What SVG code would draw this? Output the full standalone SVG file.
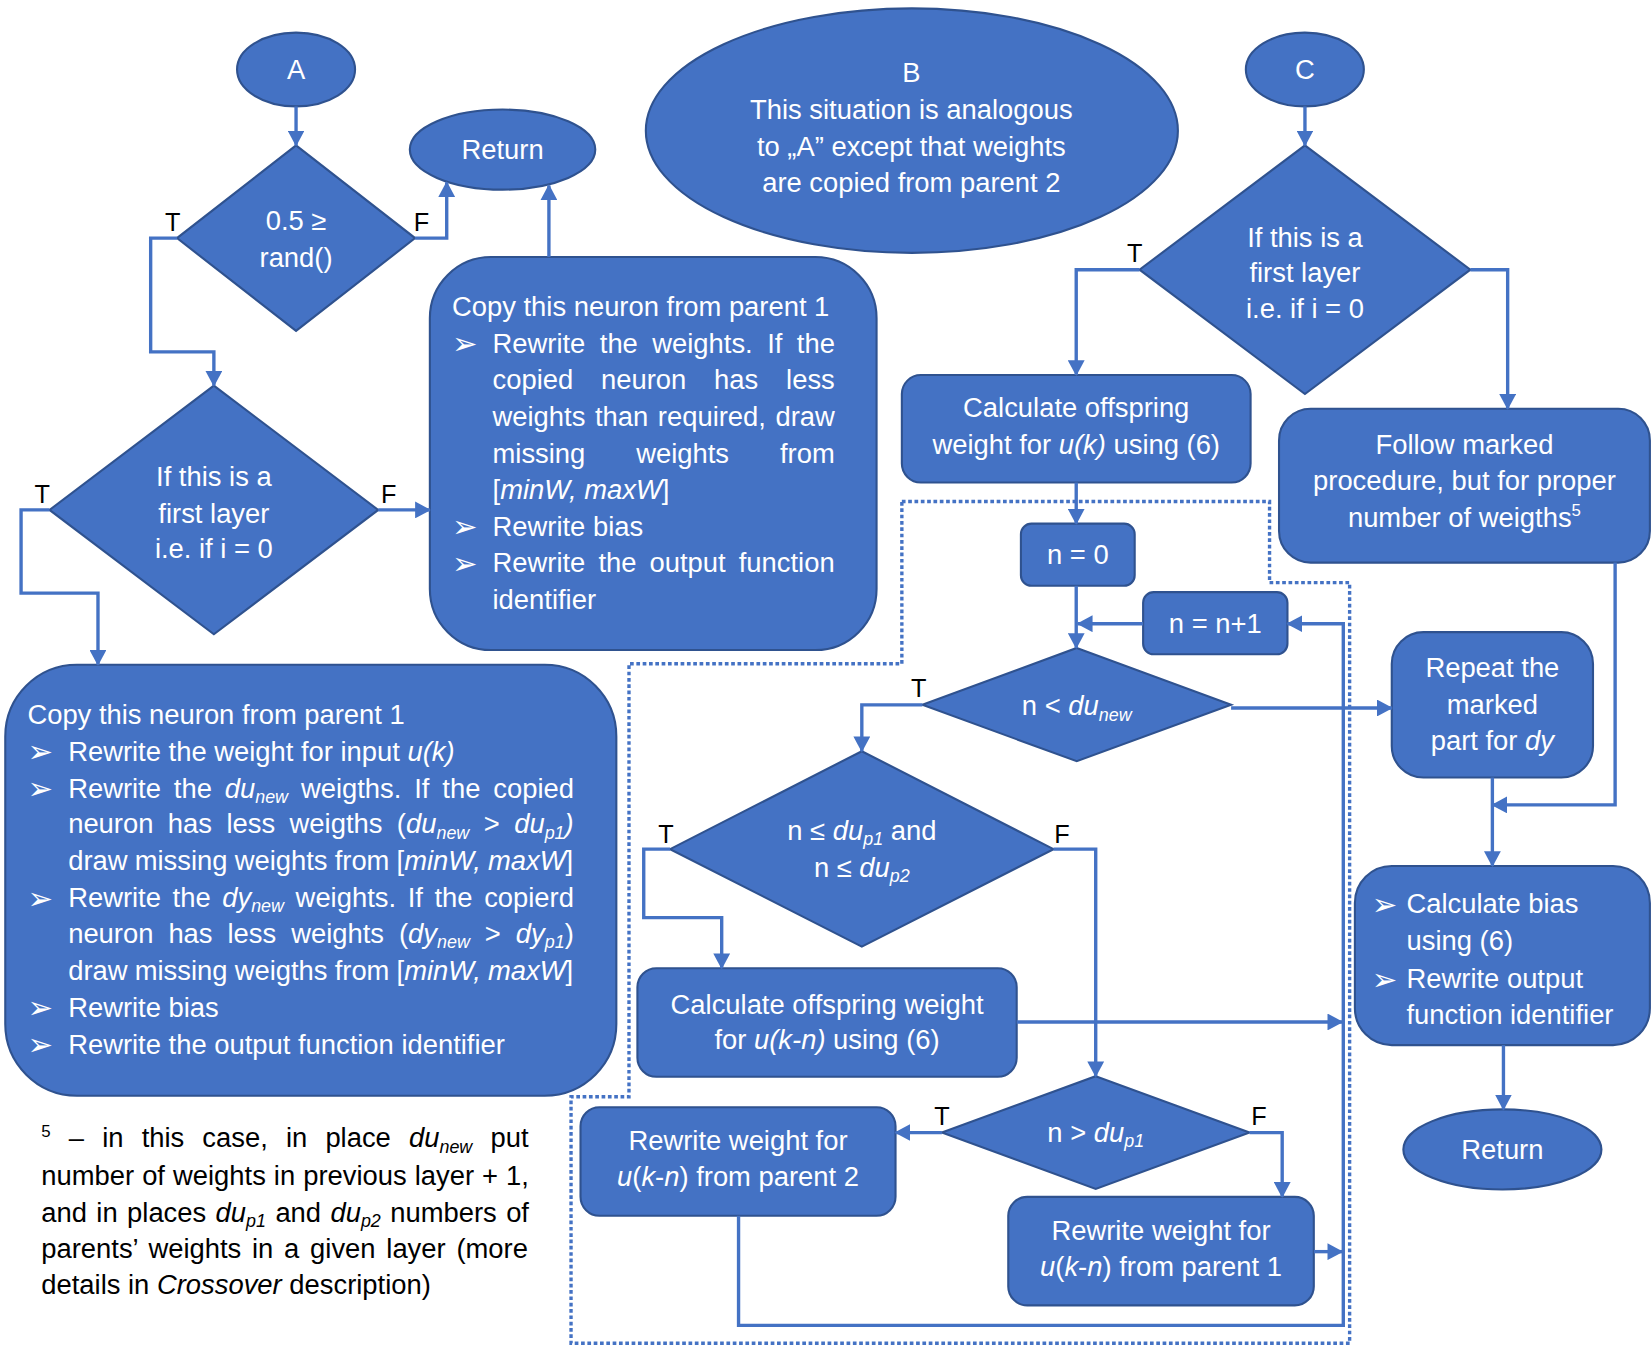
<svg xmlns="http://www.w3.org/2000/svg" width="1652" height="1356" viewBox="0 0 1652 1356">
<style>
.node{fill:#4472C4;stroke:#2F528F;stroke-width:2}
.t{font-family:"Liberation Sans",Arial,sans-serif;font-size:26px;fill:#fff}
.c{text-anchor:middle}
.i{font-style:italic}
.sub{font-size:17px;font-style:italic}
.sup{font-size:16px}
.lbl{font-family:"Liberation Sans",Arial,sans-serif;font-size:24px;fill:#000;text-anchor:middle}
.bul{font-family:"DejaVu Sans",sans-serif;font-size:29px;fill:#fff}
.fn{fill:#000}
.conn{fill:none;stroke:#4472C4;stroke-width:3.2}
.dash{fill:none;stroke:#4472C4;stroke-width:3.2;stroke-dasharray:3.5 2.5}
</style>
<defs>
<marker id="ah" markerUnits="userSpaceOnUse" markerWidth="16" markerHeight="16" refX="14" refY="8" orient="auto"><path d="M0,0 L15,8 L0,16 z" fill="#4472C4"/></marker>
</defs>
<rect width="1652" height="1356" fill="#fff"/>
<g transform="scale(1.05357)">
<g id="nodes">
<g id="startA"><ellipse class="node" cx="281" cy="66" rx="56" ry="35"/><text class="t c" x="281" y="75">A</text></g>
<g id="startB"><ellipse class="node" cx="865.5" cy="124" rx="252.5" ry="116"/>
<text class="t c" x="865" y="78">B</text>
<text class="t c" x="865" y="113">This situation is analogous</text>
<text class="t c" x="865" y="148">to „A” except that weights</text>
<text class="t c" x="865" y="182">are copied from parent 2</text></g>
<g id="startC"><ellipse class="node" cx="1238.5" cy="66" rx="56" ry="35"/><text class="t c" x="1238.5" y="75">C</text></g>
<g id="returnTop"><ellipse class="node" cx="477" cy="142" rx="88" ry="38"/><text class="t c" x="477" y="151">Return</text></g>
<g id="dRand"><polygon class="node" points="281,138 394,226 281,314 168,226"/>
<text class="t c" x="281" y="218">0.5 ≥</text><text class="t c" x="281" y="253">rand()</text></g>
<g id="dFirstA"><polygon class="node" points="203,366 359,484 203,602 47,484"/>
<text class="t c" x="203" y="461">If this is a</text><text class="t c" x="203" y="496">first layer</text><text class="t c" x="203" y="530">i.e. if i = 0</text></g>
<g id="copyBox1"><rect class="node" x="408" y="244" width="424" height="373" rx="58"/>
<text class="t" x="429" y="300">Copy this neuron from parent 1</text>
<text class="bul" x="429" y="336">➢</text><text class="t" x="467.5" y="334.7" word-spacing="6.5">Rewrite the weights. If the</text>
<text class="t" x="467.5" y="369.5" word-spacing="19.2">copied neuron has less</text>
<text class="t" x="467.5" y="404.2" word-spacing="1.9">weights than required, draw</text>
<text class="t" x="467.5" y="439" word-spacing="41.1">missing weights from</text>
<text class="t" x="467.5" y="473.7">[<tspan class="i">minW, maxW</tspan>]</text>
<text class="bul" x="429" y="510">➢</text><text class="t" x="467.5" y="508.5">Rewrite bias</text>
<text class="bul" x="429" y="544.5">➢</text><text class="t" x="467.5" y="543.2" word-spacing="5.2">Rewrite the output function</text>
<text class="t" x="467.5" y="578">identifier</text></g>
<g id="copyBox2"><rect class="node" x="5" y="631" width="580" height="409" rx="68"/>
<text class="t" x="26" y="687">Copy this neuron from parent 1</text>
<text class="bul" x="26" y="723.5">➢</text><text class="t" x="64.7" y="722">Rewrite the weight for input <tspan class="i">u(k)</tspan></text>
<text class="bul" x="26" y="758.5">➢</text><text class="t" x="64.7" y="757" word-spacing="5">Rewrite the <tspan class="i">du</tspan><tspan class="sub" dy="5">new</tspan><tspan dy="-5"> weigths. If the copied</tspan></text>
<text class="t" x="64.7" y="791" word-spacing="6.5">neuron has less weigths (<tspan class="i">du</tspan><tspan class="sub" dy="5">new</tspan><tspan dy="-5"> &gt; </tspan><tspan class="i">du</tspan><tspan class="sub" dy="5">p1</tspan><tspan class="i" dy="-5">)</tspan></text>
<text class="t" x="64.7" y="826" word-spacing="-0.4">draw missing weights from [<tspan class="i">minW, maxW</tspan>]</text>
<text class="bul" x="26" y="862.5">➢</text><text class="t" x="64.7" y="861" word-spacing="3.8">Rewrite the <tspan class="i">dy</tspan><tspan class="sub" dy="5">new</tspan><tspan dy="-5"> weights. If the copierd</tspan></text>
<text class="t" x="64.7" y="895" word-spacing="7">neuron has less weights (<tspan class="i">dy</tspan><tspan class="sub" dy="5">new</tspan><tspan dy="-5"> &gt; </tspan><tspan class="i">dy</tspan><tspan class="sub" dy="5">p1</tspan><tspan dy="-5">)</tspan></text>
<text class="t" x="64.7" y="930" word-spacing="-0.4">draw missing weigths from [<tspan class="i">minW, maxW</tspan>]</text>
<text class="bul" x="26" y="966.5">➢</text><text class="t" x="64.7" y="965">Rewrite bias</text>
<text class="bul" x="26" y="1001.5">➢</text><text class="t" x="64.7" y="1000">Rewrite the output function identifier</text></g>
<g id="dFirstC"><polygon class="node" points="1238.6,138 1395.6,256 1238.6,374 1081.6,256"/>
<text class="t c" x="1238.6" y="234">If this is a</text><text class="t c" x="1238.6" y="268">first layer</text><text class="t c" x="1238.6" y="302">i.e. if i = 0</text></g>
<g id="calcUk"><rect class="node" x="856" y="356" width="331" height="102" rx="18"/>
<text class="t c" x="1021.5" y="396">Calculate offspring</text>
<text class="t c" x="1021.5" y="431">weight for <tspan class="i">u(k)</tspan> using (6)</text></g>
<g id="follow"><rect class="node" x="1214" y="388" width="352" height="146" rx="30"/>
<text class="t c" x="1390" y="431">Follow marked</text>
<text class="t c" x="1390" y="465">procedure, but for proper</text>
<text class="t c" x="1390" y="500">number of weigths<tspan class="sup" dy="-10">5</tspan></text></g>
<g id="nZero"><rect class="node" x="969" y="497" width="108" height="59" rx="10"/><text class="t c" x="1023" y="535">n = 0</text></g>
<g id="nInc"><rect class="node" x="1085" y="562" width="137" height="59" rx="10"/><text class="t c" x="1153.5" y="601">n = n+1</text></g>
<g id="dLoop"><polygon class="node" points="1022,615 1168.5,669 1022,722.5 875.5,669"/>
<text class="t c" x="1022" y="679">n &lt; <tspan class="i">du</tspan><tspan class="sub" dy="5">new</tspan></text></g>
<g id="repeat"><rect class="node" x="1321" y="600" width="191" height="138" rx="30"/>
<text class="t c" x="1416.5" y="643">Repeat the</text>
<text class="t c" x="1416.5" y="678">marked</text>
<text class="t c" x="1416.5" y="712">part for <tspan class="i">dy</tspan></text></g>
<g id="dBoth"><polygon class="node" points="818,713 1000,806 818,898.5 636,806"/>
<text class="t c" x="818" y="797">n ≤ <tspan class="i">du</tspan><tspan class="sub" dy="5">p1</tspan><tspan dy="-5"> and</tspan></text>
<text class="t c" x="818" y="832">n ≤ <tspan class="i">du</tspan><tspan class="sub" dy="5">p2</tspan></text></g>
<g id="calcBias"><rect class="node" x="1286" y="822" width="280" height="170" rx="35"/>
<text class="bul" x="1302" y="868.5">➢</text><text class="t" x="1335" y="867">Calculate bias</text>
<text class="t" x="1335" y="902">using (6)</text>
<text class="bul" x="1302" y="939.5">➢</text><text class="t" x="1335" y="938">Rewrite output</text>
<text class="t" x="1335" y="972">function identifier</text></g>
<g id="calcUkn"><rect class="node" x="605" y="919" width="360" height="103" rx="18"/>
<text class="t c" x="785" y="962">Calculate offspring weight</text>
<text class="t c" x="785" y="996">for <tspan class="i">u(k-n)</tspan> using (6)</text></g>
<g id="dGreater"><polygon class="node" points="1040,1021.5 1186,1075 1040,1128.5 894,1075"/>
<text class="t c" x="1040" y="1084">n &gt; <tspan class="i">du</tspan><tspan class="sub" dy="5">p1</tspan></text></g>
<g id="rewriteP2"><rect class="node" x="551" y="1051" width="299" height="103" rx="18"/>
<text class="t c" x="700.5" y="1092">Rewrite weight for</text>
<text class="t c" x="700.5" y="1126"><tspan class="i">u</tspan>(<tspan class="i">k</tspan>-<tspan class="i">n</tspan>) from parent 2</text></g>
<g id="rewriteP1"><rect class="node" x="957" y="1136" width="290" height="103" rx="18"/>
<text class="t c" x="1102" y="1177">Rewrite weight for</text>
<text class="t c" x="1102" y="1211"><tspan class="i">u</tspan>(<tspan class="i">k</tspan>-<tspan class="i">n</tspan>) from parent 1</text></g>
<g id="returnBottom"><ellipse class="node" cx="1426" cy="1091" rx="94" ry="38"/><text class="t c" x="1426" y="1100">Return</text></g>
<g id="footnote">
<text class="t fn" x="39.2" y="1089" word-spacing="10"><tspan class="sup" dy="-10">5</tspan><tspan dy="10"> – in this case, in place </tspan><tspan class="i">du</tspan><tspan class="sub" dy="5">new</tspan><tspan dy="-5"> put</tspan></text>
<text class="t fn" x="39.2" y="1124.5" word-spacing="0.4">number of weights in previous layer + 1,</text>
<text class="t fn" x="39.2" y="1159.5" word-spacing="1.7">and in places <tspan class="i">du</tspan><tspan class="sub" dy="5">p1</tspan><tspan dy="-5"> and </tspan><tspan class="i">du</tspan><tspan class="sub" dy="5">p2</tspan><tspan dy="-5"> numbers of</tspan></text>
<text class="t fn" x="39.2" y="1194" word-spacing="3">parents’ weights in a given layer (more</text>
<text class="t fn" x="39.2" y="1228">details in <tspan class="i">Crossover</tspan> description)</text>
</g>
</g>
<g id="connectors">
<path class="dash" d="M856,476 H1205 V553 H1281 V1275 H542 V1041 H597 V630 H856 Z"/>
<path class="conn" marker-end="url(#ah)" d="M281,101 V138"/>
<path class="conn" marker-end="url(#ah)" d="M168,226 H143 V334 H203 V366"/>
<path class="conn" marker-end="url(#ah)" d="M394,226 H424 V173"/>
<path class="conn" marker-end="url(#ah)" d="M521,244 V176"/>
<path class="conn" marker-end="url(#ah)" d="M359,484 H408"/>
<path class="conn" marker-end="url(#ah)" d="M47,484 H20 V563 H93 V631"/>
<path class="conn" marker-end="url(#ah)" d="M1238.6,101 V138"/>
<path class="conn" marker-end="url(#ah)" d="M1081.6,256 H1021.5 V356"/>
<path class="conn" marker-end="url(#ah)" d="M1395.6,256 H1431 V388"/>
<path class="conn" marker-end="url(#ah)" d="M1021.5,458 V497"/>
<path class="conn" marker-end="url(#ah)" d="M1021.5,556 V615"/>
<path class="conn" marker-end="url(#ah)" d="M1085,592 H1023"/>
<path class="conn" marker-end="url(#ah)" d="M875.5,669 H818 V713"/>
<path class="conn" marker-end="url(#ah)" d="M1168.5,672 H1321"/>
<path class="conn" marker-end="url(#ah)" d="M636,806 H611 V871 H685 V919"/>
<path class="conn" marker-end="url(#ah)" d="M1000,806 H1040 V1021.5"/>
<path class="conn" marker-end="url(#ah)" d="M965,970 H1274"/>
<path class="conn" marker-end="url(#ah)" d="M894,1075 H850"/>
<path class="conn" marker-end="url(#ah)" d="M1186,1075 H1217 V1136"/>
<path class="conn" marker-end="url(#ah)" d="M1247,1188 H1274"/>
<path class="conn" marker-end="url(#ah)" d="M701,1154 V1258 H1275 V592 H1222"/>
<path class="conn" marker-end="url(#ah)" d="M1533,534 V764 H1416.5"/>
<path class="conn" marker-end="url(#ah)" d="M1416.5,738 V822"/>
<path class="conn" marker-end="url(#ah)" d="M1427,992 V1053"/>
</g>
<g id="labels">
<text class="lbl" x="164" y="219">T</text><text class="lbl" x="400" y="219">F</text>
<text class="lbl" x="40" y="477">T</text><text class="lbl" x="369" y="477">F</text>
<text class="lbl" x="1077" y="249">T</text>
<text class="lbl" x="872" y="662">T</text>
<text class="lbl" x="632" y="800">T</text><text class="lbl" x="1008" y="800">F</text>
<text class="lbl" x="894" y="1068">T</text><text class="lbl" x="1195" y="1068">F</text>
</g>
</g>
</svg>
